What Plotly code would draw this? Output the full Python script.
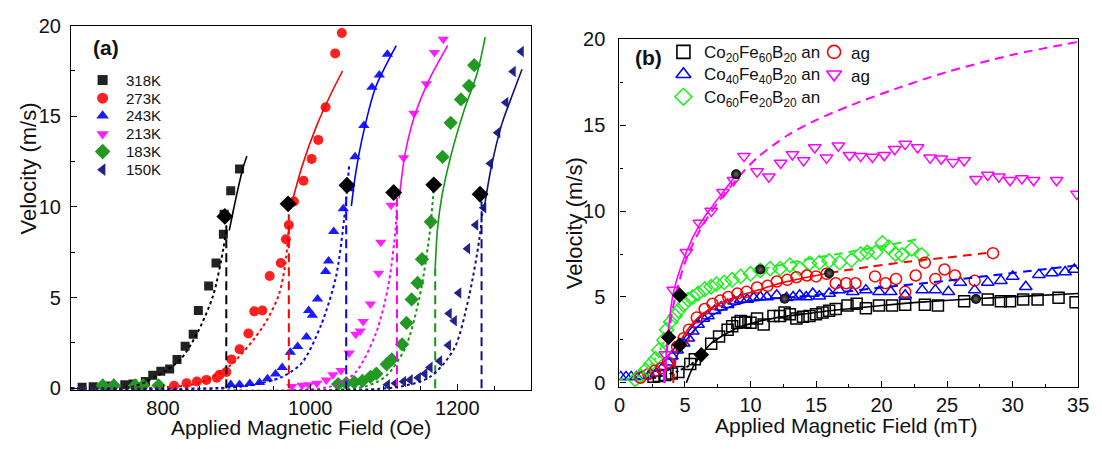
import plotly.graph_objects as go

# page is 1102x449; the browser body keeps its default 8px margin,
# so the figure is placed at (8, 8): 1094 wide (may reach the right page edge), 433 tall
W, H = 1102, 449
OFF = 8
FW, FH = W - OFF, H - 2 * OFF
FONT = "Liberation Sans, Arial, sans-serif"


def fx(px):
    return (px - OFF) / FW


def fy(py):
    return 1 - (py - OFF) / FH


# ======================= Panel (a): field (Oe) vs velocity (m/s) =======================
temps_a = ["318K", "273K", "243K", "213K", "183K", "150K"]

H_318 = [690, 705, 722, 748, 759, 776, 786, 797, 809, 819, 830, 841, 848, 862, 872, 882, 883, 892, 904]
V_318 = [0.05, 0.08, 0.12, 0.19, 0.23, 0.37, 0.72, 0.94, 1.06, 1.59, 2.32, 2.98, 4.29, 5.64, 6.91, 8.5, 9.6, 10.9, 12.1]
DOT_318_H = [675, 760, 801, 824, 846, 868, 882, 886]
DOT_318_V = [0, 0.1, 0.9, 1.6, 3.0, 5.1, 7.7, 8.8]
SOL_318_H = [890, 896, 903, 909, 914]
SOL_318_V = [8.7, 9.9, 11.2, 12.2, 12.8]
HD_318, VD_318 = 886, 9.3

H_273 = [815, 832, 846, 859, 873, 877, 886, 893, 904, 916, 924, 935, 945, 960, 967, 971, 978, 991, 1002, 1011, 1021, 1034, 1043]
V_273 = [0.14, 0.28, 0.37, 0.46, 0.58, 0.75, 0.89, 1.59, 2.15, 3.02, 4.24, 4.29, 6.19, 6.91, 8.22, 9.0, 10.3, 11.45, 12.65, 13.7, 15.5, 18.47, 19.6]
DOT_273_H = [675, 800, 850, 891, 935, 957, 966, 971]
DOT_273_V = [0, 0.05, 0.3, 1.24, 3.35, 5.1, 6.8, 8.8]
SOL_273_H = [974, 989, 1009, 1029, 1044]
SOL_273_V = [10.05, 12.25, 14.5, 16.3, 17.5]
HD_273, VD_273 = 971, 9.6

H_243 = [892, 904, 918, 931, 942, 953, 962, 973, 983, 995, 998, 1003, 1010, 1021, 1025, 1032, 1045, 1053, 1061, 1073, 1084, 1094, 1105]
V_243 = [0.21, 0.21, 0.26, 0.31, 0.52, 0.79, 1.15, 1.99, 2.3, 2.83, 4.29, 4.03, 4.92, 6.44, 7.02, 8.64, 9.9, 11.0, 12.77, 14.5, 16.6, 17.28, 18.43]
DOT_243_H = [675, 908, 962, 989, 1015, 1035, 1046, 1053]
DOT_243_V = [0, 0.1, 0.63, 1.41, 3.5, 6.13, 9.27, 12.25]
SOL_243_H = [1056, 1062, 1073, 1089, 1117]
SOL_243_V = [10.05, 11.9, 14.2, 16.6, 18.9]
HD_243, VD_243 = 1049, 11.0

H_213 = [975, 989, 998, 1009, 1022, 1031, 1042, 1053, 1062, 1068, 1072, 1082, 1093, 1096, 1110, 1127, 1141, 1158, 1169, 1181]
V_213 = [0.1, 0.16, 0.19, 0.28, 0.46, 0.75, 0.98, 1.94, 2.98, 3.16, 3.68, 4.64, 6.34, 8.05, 10.1, 12.72, 15.17, 16.8, 18.52, 19.25]
DOT_213_H = [675, 1029, 1062, 1089, 1106, 1116, 1118]
DOT_213_V = [0, 0.1, 0.89, 2.98, 5.6, 8.74, 10.3]
SOL_213_H = [1121, 1129, 1142, 1163, 1187]
SOL_213_V = [10.47, 12.93, 15.03, 17.12, 18.9]
HD_213, VD_213 = 1118, 10.5

H_183 = [718, 733, 762, 773, 794, 1038, 1049, 1060, 1071, 1082, 1090, 1104, 1111, 1125, 1131, 1138, 1146, 1152, 1164, 1180, 1191, 1205, 1216, 1223]
V_183 = [0.15, 0.15, 0.15, 0.15, 0.15, 0.23, 0.28, 0.33, 0.4, 0.63, 0.8, 1.32, 1.59, 2.42, 3.6, 4.9, 5.81, 7.12, 9.18, 12.76, 14.64, 15.93, 16.68, 17.82]
DOT_183_H = [675, 1069, 1102, 1129, 1149, 1163, 1168]
DOT_183_V = [0, 0.05, 0.63, 2.2, 5.08, 8.74, 11.1]
SOL_183_H = [1170, 1173, 1179, 1192, 1209, 1227, 1238]
SOL_183_V = [6.65, 8.74, 10.58, 12.93, 15.29, 17.38, 19.37]
HD_183, VD_183 = 1170, 6.65

H_150 = [1105, 1116, 1127, 1136, 1147, 1156, 1163, 1176, 1188, 1196, 1189, 1202, 1214, 1225, 1236, 1245, 1255, 1266, 1276, 1287]
V_150 = [0.19, 0.28, 0.37, 0.46, 0.58, 0.8, 1.15, 1.5, 2.37, 3.72, 4.12, 5.25, 7.7, 9.0, 9.96, 12.4, 14.1, 15.76, 17.47, 18.57]
DOT_150_H = [675, 1116, 1163, 1196, 1216, 1230, 1235]
DOT_150_V = [0, 0.05, 0.63, 2.2, 5.08, 8.22, 10.05]
SOL_150_H = [1236, 1246, 1260, 1276, 1288]
SOL_150_V = [9.8, 12.15, 14.5, 16.3, 17.6]
HD_150, VD_150 = 1233, 10.3

TRANS_A_H = [884, 970, 1050, 1113.5, 1168, 1231]
TRANS_A_V = [9.48, 10.17, 11.2, 10.8, 11.22, 10.7]

# ======================= Panel (b): field (mT) vs velocity (m/s) =======================
labels_b = ["Co<sub>20</sub>Fe<sub>60</sub>B<sub>20</sub> an",
            "Co<sub>40</sub>Fe<sub>40</sub>B<sub>20</sub> an",
            "Co<sub>60</sub>Fe<sub>20</sub>B<sub>20</sub> an",
            "ag", "ag"]

SQ_H = [2.6, 3.0, 3.5, 4.0, 4.5, 5.4, 5.75, 7.0, 7.6, 8.25, 8.6, 9.0, 9.25, 9.6, 10.0, 10.5, 11.0, 11.75, 12.25,
        12.6, 13.0, 13.5, 14.0, 14.5, 15.0, 15.5, 16.0, 16.5, 17.4, 18.1, 18.8, 19.8, 20.8, 21.8, 23.3, 24.3, 26.3,
        28.1, 29.1, 29.8, 30.8, 31.9, 33.5, 34.8]
SQ_V = [0.35, 0.4, 0.46, 0.55, 0.64, 1.1, 1.37, 2.28, 2.7, 3.1, 3.3, 3.5, 3.6, 3.55, 3.5, 3.75, 3.4, 3.9, 3.9,
        4.1, 4.0, 3.75, 3.85, 3.9, 4.0, 4.1, 4.2, 4.3, 4.5, 4.6, 4.35, 4.5, 4.5, 4.55, 4.55, 4.5, 4.75,
        4.85, 4.75, 4.75, 4.85, 4.85, 4.95, 4.7]
SQ_SOL_H = [5.1, 5.6, 6.25, 7.0, 8.0, 9.0, 10.5, 12.0, 14.0, 16.0, 18.0, 20.0, 23.0, 27.2, 31.0, 35.0]
SQ_SOL_V = [0, 0.9, 1.64, 2.3, 2.8, 3.2, 3.55, 3.8, 4.0, 4.2, 4.35, 4.5, 4.7, 4.9, 5.05, 5.2]
SQ_DOT_H = [2.5, 3.5, 4.5, 5.5, 6.25]
SQ_DOT_V = [0.3, 0.45, 0.7, 1.1, 1.64]

TR_H = [0.1, 0.5, 0.9, 1.3, 1.7, 2.3, 2.8, 3.3, 3.7, 4.0, 4.4, 4.9, 5.25, 5.6, 6.0, 6.4, 6.75, 7.25, 7.75, 8.25,
        8.75, 9.25, 9.75, 10.25, 10.75, 11.25, 12.0, 12.75, 13.25, 13.75, 14.25, 14.75, 15.25, 16.0, 16.75, 17.8,
        18.8, 19.8, 20.7, 21.8, 23.1, 24.1, 25.1, 26.0, 27.1, 28.1, 29.1, 30.0, 31.0, 32.0, 33.0, 34.0, 34.7]
TR_V = [0.35, 0.35, 0.35, 0.35, 0.4, 0.45, 0.55, 0.9, 1.2, 1.55, 1.9, 2.3, 2.6, 3.0, 3.4, 3.75, 3.9, 4.2, 4.4, 4.55,
        4.75, 4.85, 4.85, 4.95, 5.0, 5.0, 5.1, 4.95, 5.0, 5.1, 5.0, 5.2, 5.05, 5.2, 5.4,
        5.3, 5.4, 5.3, 5.3, 5.1, 5.4, 5.4, 5.3, 5.85, 5.4, 5.85, 5.95, 6.2, 5.6, 6.3, 6.4, 6.45, 6.6]
TR_SOL_H = [4.2, 4.6, 5.2, 6.0, 7.0, 8.5, 10.0, 11.5, 12.6]
TR_SOL_V = [1.2, 1.9, 2.6, 3.3, 3.9, 4.45, 4.75, 4.9, 4.95]
TR_DASH_H = [12.6, 16.0, 20.0, 25.0, 30.0, 35.0]
TR_DASH_V = [4.95, 5.2, 5.55, 5.95, 6.4, 6.85]

DI_H = [1.2, 1.6, 2.0, 2.4, 2.75, 3.0, 3.4, 3.6, 3.9, 4.25, 4.5, 4.9, 5.25, 5.6, 6.0, 6.5, 7.0, 7.4, 8.0, 8.6,
        9.25, 10.0, 10.75, 11.5, 12.25, 13.0, 13.75, 14.5, 15.25, 16.0, 16.8, 17.7, 18.4, 18.9, 19.55, 20.06,
        20.56, 21.06, 21.56, 22.3, 23.06]
DI_V = [0.2, 0.4, 0.75, 1.1, 1.4, 1.9, 2.5, 3.1, 3.55, 3.9, 4.2, 4.55, 4.85, 5.0, 5.2, 5.45, 5.6, 5.75, 5.85, 6.0,
        6.2, 6.35, 6.55, 6.65, 6.65, 6.85, 6.65, 6.95, 7.0, 7.1, 7.0, 7.15, 7.5, 7.6, 7.6, 8.15,
        7.9, 7.5, 7.45, 7.8, 7.45]
DI_DOT_H = [0.0, 1.0, 1.6, 2.2, 2.8, 3.4]
DI_DOT_V = [0.2, 0.25, 0.45, 0.85, 1.5, 2.4]
DI_DASH_H = [10.75, 14.0, 17.0, 20.0, 22.7]
DI_DASH_V = [6.6, 7.15, 7.55, 7.95, 8.35]

CI_H = [1.6, 2.2, 2.7, 3.2, 3.7, 4.4, 4.9, 5.3, 5.9, 6.5, 7.1, 7.7, 8.3, 9.0, 9.7, 10.5, 11.3, 12.0, 12.8, 13.5,
        14.3, 15.0, 15.8, 16.5, 17.3, 18.0, 19.5, 20.3, 21.1, 21.8, 22.6, 23.3, 24.1, 24.8, 25.6, 27.1, 28.5]
CI_V = [0.3, 0.5, 0.7, 0.85, 1.2, 2.1, 2.6, 3.1, 3.8, 4.3, 4.6, 4.8, 5.0, 5.2, 5.3, 5.55, 5.65, 5.9, 6.0, 6.15,
        6.25, 6.2, 6.35, 5.8, 5.8, 5.8, 6.2, 5.8, 6.05, 5.3, 6.25, 7.0, 6.05, 6.6, 6.25, 5.95, 7.55]
CI_SOL_H = [4.3, 4.7, 5.3, 6.0, 7.0, 8.0, 9.5, 11.0, 12.5, 14.0, 16.0]
CI_SOL_V = [1.8, 2.5, 3.2, 3.8, 4.35, 4.75, 5.15, 5.5, 5.85, 6.1, 6.4]
CI_DASH_H = [4.1, 4.25, 4.45, None, 16.0, 19.0, 22.0, 25.0, 28.5]
CI_DASH_V = [0.0, 1.2, 2.3, None, 6.4, 6.75, 7.05, 7.3, 7.6]

TD_H = [3.5, 4.1, 5.1, 6.1, 7.0, 7.9, 8.7, 9.5, 10.5, 11.4, 12.3, 13.2, 14.05, 14.9, 15.8, 16.7, 17.55, 18.4,
        19.3, 20.2, 21.0, 21.8, 22.75, 23.7, 24.55, 25.45, 26.3, 27.2, 28.1, 28.95, 29.8, 30.7, 31.6, 33.35, 34.9]
TD_V = [1.65, 5.4, 7.6, 9.3, 10.0, 11.1, 11.8, 13.2, 12.3, 12.0, 12.8, 13.3, 12.95, 13.7, 13.1, 13.8, 13.25, 13.2,
        13.15, 13.25, 13.6, 13.9, 13.7, 13.1, 13.05, 12.85, 12.95, 11.85, 12.1, 12.0, 11.8, 11.9, 11.8, 11.8, 11.0]
TD_SOL_H = [3.4, 3.6, 4.1, 5.1, 6.1, 7.0, 8.0, 8.9]
TD_SOL_V = [0.0, 2.0, 5.2, 7.6, 9.2, 10.2, 11.2, 12.1]
TD_DASH_H = [3.45, 3.7, 4.2, 5.0, 6.0, 7.5, 9.0, 10.5, 12.8, 15.0, 17.8, 21.0, 25.0, 30.0, 35.0]
TD_DASH_V = [0.0, 2.5, 4.8, 7.0, 8.7, 10.5, 11.9, 13.1, 14.4, 15.3, 16.2, 17.1, 18.1, 19.1, 19.85]

SPH_H = [8.9, 10.75, 12.6, 16.0, 27.2]
SPH_V = [12.15, 6.6, 4.9, 6.38, 4.88]
DIA_B_H = [3.75, 4.6, 4.6, 6.25]
DIA_B_V = [2.65, 5.1, 2.2, 1.64]

# ======================= figure =======================
fig = go.Figure()

cols_a = ["#222222", "#ff2020", "#1a1aff", "#ff20ff", "#229922", "#22228c"]
lcols_a = ["#000000", "#ff0000", "#0000ff", "#ff00ff", "#119911", "#101080"]
syms_a = ["square", "circle", "triangle-up", "triangle-down", "diamond", "triangle-left"]
sizes_a = [9, 10, 10, 10, 11, 10]
pts_a = [(H_318, V_318), (H_273, V_273), (H_243, V_243), (H_213, V_213), (H_183, V_183), (H_150, V_150)]
dots_a = [(DOT_318_H, DOT_318_V), (DOT_273_H, DOT_273_V), (DOT_243_H, DOT_243_V),
          (DOT_213_H, DOT_213_V), (DOT_183_H, DOT_183_V), (DOT_150_H, DOT_150_V)]
sols_a = [(SOL_318_H, SOL_318_V), (SOL_273_H, SOL_273_V), (SOL_243_H, SOL_243_V),
          (SOL_213_H, SOL_213_V), (SOL_183_H, SOL_183_V), (SOL_150_H, SOL_150_V)]
dash_a = [(HD_318, VD_318), (HD_273, VD_273), (HD_243, VD_243), (HD_213, VD_213), (HD_183, VD_183), (HD_150, VD_150)]

for i in range(6):
    fig.add_trace(go.Scatter(x=pts_a[i][0], y=pts_a[i][1], mode="markers", xaxis="x", yaxis="y",
                             marker=dict(symbol=syms_a[i], size=sizes_a[i], color=cols_a[i], line=dict(width=0)),
                             showlegend=False))
for i in range(6):
    fig.add_trace(go.Scatter(x=dots_a[i][0], y=dots_a[i][1], mode="lines", xaxis="x", yaxis="y",
                             line=dict(color=lcols_a[i], width=2, dash="dot", shape="spline", smoothing=0.8),
                             showlegend=False))
    fig.add_trace(go.Scatter(x=sols_a[i][0], y=sols_a[i][1], mode="lines", xaxis="x", yaxis="y",
                             line=dict(color=lcols_a[i], width=1.6, shape="spline", smoothing=0.8),
                             showlegend=False))
    hd, vd = dash_a[i]
    fig.add_trace(go.Scatter(x=[hd, hd], y=[0, vd], mode="lines", xaxis="x", yaxis="y",
                             line=dict(color=lcols_a[i], width=2, dash="9px,5px"), showlegend=False))
fig.add_trace(go.Scatter(x=TRANS_A_H, y=TRANS_A_V, mode="markers", xaxis="x", yaxis="y",
                         marker=dict(symbol="diamond", size=13, color="#000000"), showlegend=False))

# panel b
cols_b = ["#000000", "#0000ff", "#22ee22", "#ff0000", "#ff00ff"]
syms_b = ["square-open", "triangle-up-open", "diamond-open", "circle-open", "triangle-down-open"]
pts_b = [(SQ_H, SQ_V), (TR_H, TR_V), (DI_H, DI_V), (CI_H, CI_V), (TD_H, TD_V)]
for i in range(5):
    fig.add_trace(go.Scatter(x=pts_b[i][0], y=pts_b[i][1], mode="markers", xaxis="x2", yaxis="y2",
                             marker=dict(symbol=syms_b[i], size=11, color=cols_b[i], line=dict(width=1.5, color=cols_b[i])),
                             showlegend=False))

lines_b = [
    (SQ_DOT_H, SQ_DOT_V, cols_b[0], "dot"), (SQ_SOL_H, SQ_SOL_V, cols_b[0], "solid"),
    (TR_SOL_H, TR_SOL_V, cols_b[1], "solid"), (TR_DASH_H, TR_DASH_V, cols_b[1], "9px,6px"),
    (DI_DOT_H, DI_DOT_V, cols_b[2], "dot"), (DI_DASH_H, DI_DASH_V, cols_b[2], "9px,6px"),
    (CI_SOL_H, CI_SOL_V, cols_b[3], "solid"), (CI_DASH_H, CI_DASH_V, cols_b[3], "9px,6px"),
    (TD_SOL_H, TD_SOL_V, cols_b[4], "solid"), (TD_DASH_H, TD_DASH_V, cols_b[4], "9px,6px"),
]
for hx, vy, c, d in lines_b:
    fig.add_trace(go.Scatter(x=hx, y=vy, mode="lines", xaxis="x2", yaxis="y2",
                             line=dict(color=c, width=2 if d != "solid" else 1.6, dash=d, shape="spline", smoothing=0.8),
                             showlegend=False))
fig.add_trace(go.Scatter(x=DIA_B_H, y=DIA_B_V, mode="markers", xaxis="x2", yaxis="y2",
                         marker=dict(symbol="diamond", size=12, color="#000000"), showlegend=False))
fig.add_trace(go.Scatter(x=SPH_H, y=SPH_V, mode="markers", xaxis="x2", yaxis="y2",
                         marker=dict(symbol="circle", size=10, color="#000000",
                                     gradient=dict(type="radial", color="#6a6a6a"), line=dict(width=0)),
                         showlegend=False))

# ---- legend keys (layout positions in page pixels on an invisible full-figure axis) ----
LEG_A_X, LEG_A_TX = 98, 120
LEG_A_Y = [72, 91, 109.5, 128.5, 147, 166]
LEG_B_X, LEG_B_TX = 688, 707
LEG_B2_X, LEG_B2_TX = 841, 856
LEG_B_Y = [42.5, 66, 89.5]

for i in range(6):
    fig.add_trace(go.Scatter(x=[LEG_A_X], y=[LEG_A_Y[i]], mode="markers", xaxis="x3", yaxis="y3",
                             marker=dict(symbol=syms_a[i], size=sizes_a[i] + 1, color=cols_a[i]),
                             showlegend=False, hoverinfo="skip"))
leg_b_pos = [(LEG_B_X, LEG_B_Y[0]), (LEG_B_X, LEG_B_Y[1]), (LEG_B_X, LEG_B_Y[2]),
             (LEG_B2_X, LEG_B_Y[0]), (LEG_B2_X, LEG_B_Y[1])]
for i in range(5):
    fig.add_trace(go.Scatter(x=[leg_b_pos[i][0]], y=[leg_b_pos[i][1]], mode="markers", xaxis="x3", yaxis="y3",
                             marker=dict(symbol=syms_b[i], size=13, color=cols_b[i], line=dict(width=1.6, color=cols_b[i])),
                             showlegend=False, hoverinfo="skip"))


def ann(x, y, text, size, angle=0, xanchor="center"):
    return dict(x=fx(x), y=fy(y), xref="paper", yref="paper", text=text, showarrow=False,
                xanchor=xanchor, yanchor="middle", textangle=angle, font=dict(size=size, color="#111"))


annotations = []
for i in range(6):
    annotations.append(ann(LEG_A_TX, LEG_A_Y[i], temps_a[i], 15, xanchor="left"))
leg_b_txt = [(LEG_B_TX, LEG_B_Y[0]), (LEG_B_TX, LEG_B_Y[1]), (LEG_B_TX, LEG_B_Y[2]),
             (LEG_B2_TX, LEG_B_Y[0]), (LEG_B2_TX, LEG_B_Y[1])]
for i in range(5):
    annotations.append(ann(leg_b_txt[i][0], leg_b_txt[i][1] + 2, labels_b[i], 17, xanchor="left"))
annotations += [
    ann(101, 38, "<b>(a)</b>", 21),
    ann(653, 48, "<b>(b)</b>", 21),
    ann(300, 436, "Applied Magnetic Field (Oe)", 21),
    ann(854, 434, "Applied Magnetic Field (mT)", 21),
    ann(23, 165, "Velocity (m/s)", 22, angle=-90),
    ann(577, 222, "Velocity (m/s)", 22, angle=-90),
]

axis_common = dict(showline=True, linecolor="#000", linewidth=1.3, mirror=True, ticks="inside", ticklen=6,
                   tickwidth=1.2, tickcolor="#000", showgrid=False, zeroline=False,
                   tickfont=dict(size=20, color="#111", family=FONT))

fig.update_layout(
    width=FW, height=FH, margin=dict(l=0, r=0, t=0, b=0), paper_bgcolor="white", plot_bgcolor="rgba(0,0,0,0)",
    font=dict(family=FONT, color="#111"), showlegend=False,
    xaxis=dict(domain=[fx(66), fx(533)], range=[675, 1300], anchor="y", tick0=800, dtick=200,
               minor=dict(ticks="inside", ticklen=3.5, dtick=50, tickcolor="#000"), **axis_common),
    yaxis=dict(domain=[fy(397), fy(15)], range=[-0.1, 20], anchor="x", tick0=0, dtick=5,
               minor=dict(ticks="inside", ticklen=3.5, dtick=2.5, tickcolor="#000"), ticklabelstandoff=5,
               **axis_common),
    xaxis2=dict(domain=[fx(623), fx(1089)], range=[0, 35], anchor="y2", tick0=0, dtick=5,
                minor=dict(ticks="inside", ticklen=3.5, dtick=2.5, tickcolor="#000"), **axis_common),
    yaxis2=dict(domain=[fy(394), fy(29.3)], range=[-0.25, 20], anchor="x2", tick0=0, dtick=5,
                minor=dict(ticks="inside", ticklen=3.5, dtick=2.5, tickcolor="#000"), ticklabelstandoff=9,
                **axis_common),
    xaxis3=dict(domain=[0, 1], range=[OFF, OFF + FW], anchor="y3", visible=False, fixedrange=True),
    yaxis3=dict(domain=[0, 1], range=[OFF + FH, OFF], anchor="x3", visible=False, fixedrange=True),
    annotations=annotations,
)

fig.write_html("out.html", config={"displayModeBar": False})
